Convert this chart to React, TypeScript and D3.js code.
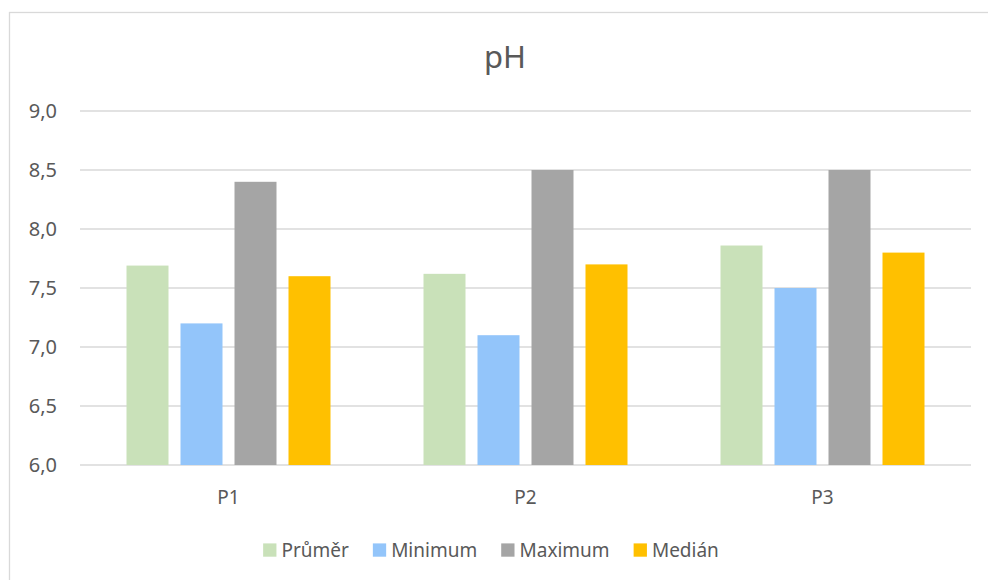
import React from "react";
import * as d3 from "d3";

const categories = ["P1", "P2", "P3"];
const seriesNames = ["Průměr", "Minimum", "Maximum", "Medián"];
const prumer = [7.69, 7.62, 7.86];
const minimum = [7.2, 7.1, 7.5];
const maximum = [8.4, 8.5, 8.5];
const median = [7.6, 7.7, 7.8];
const yTicks = [6.0, 6.5, 7.0, 7.5, 8.0, 8.5, 9.0];
const colors = ["#c9e1b9", "#93c5fa", "#a5a5a5", "#ffc000"];

const W = 988;
const H = 580;
const FONT = "'Noto Sans', 'Open Sans', sans-serif";
const TEXT = "#595959";

function measure(text: string, size: number): number {
  if (typeof document === "undefined") return text.length * size * 0.55;
  const c = document.createElement("canvas");
  const ctx = c.getContext("2d");
  if (!ctx) return text.length * size * 0.55;
  ctx.font = `${size}px 'Noto Sans'`;
  return ctx.measureText(text).width;
}

export default function App() {
  const values = [prumer, minimum, maximum, median];
  const plot = { left: 80, right: 971, top: 111, bottom: 465 };
  const y = d3.scaleLinear().domain([6, 9]).range([plot.bottom, plot.top]);
  const x0 = d3.scaleBand<string>().domain(categories).range([plot.left, plot.right]).padding(0);
  const band = x0.bandwidth();
  const groupW = band * (204 / 297);
  const off = (band - groupW) / 2;
  const x1 = d3
    .scaleBand<string>()
    .domain(seriesNames)
    .range([off, off + groupW])
    .paddingInner(12 / 54)
    .paddingOuter(0);

  const legendSize = 19;
  const sq = 13.3;
  const widths = seriesNames.map((s) => measure(s, legendSize));
  const itemW = widths.map((w) => sq + 5 + w);
  const total = itemW.reduce((a, b) => a + b, 0) + 24 * (seriesNames.length - 1);
  let lx = 491 - total / 2;
  const legendItems = seriesNames.map((s, i) => {
    const item = { name: s, x: lx, color: colors[i] };
    lx += itemW[i] + 24;
    return item;
  });

  return (
    <div style={{ position: "absolute", left: 0, top: 0 }}>
      <svg width={W} height={H} style={{ display: "block", background: "#fff" }}>
        <rect x={9.5} y={12.5} width={1000} height={600} fill="#fff" stroke="#d9d9d9" strokeWidth={1.3} />
        <text x={505} y={68} textAnchor="middle" fontFamily={FONT} fontSize={31} fill={TEXT}>
          pH
        </text>
        {yTicks.map((t) => (
          <g key={t}>
            <line x1={plot.left} x2={plot.right} y1={y(t)} y2={y(t)} stroke="#d9d9d9" strokeWidth={1.4} />
            <text
              x={57}
              y={y(t)}
              dy="0.35em"
              textAnchor="end"
              fontFamily={FONT}
              fontSize={20}
              fill={TEXT}
            >
              {d3.format(".1f")(t).replace(".", ",")}
            </text>
          </g>
        ))}
        {categories.map((c, ci) => (
          <g key={c} transform={`translate(${x0(c)},0)`}>
            {seriesNames.map((s, si) => (
              <rect
                key={s}
                x={x1(s)}
                y={y(values[si][ci])}
                width={x1.bandwidth()}
                height={y(6) - y(values[si][ci])}
                fill={colors[si]}
              />
            ))}
            <text
              x={band / 2}
              y={504}
              textAnchor="middle"
              fontFamily={FONT}
              fontSize={19}
              fill={TEXT}
            >
              {c}
            </text>
          </g>
        ))}
        {legendItems.map((it) => (
          <g key={it.name}>
            <rect x={it.x} y={543.4} width={sq} height={sq} fill={it.color} />
            <text x={it.x + sq + 5} y={556.7} fontFamily={FONT} fontSize={legendSize} fill={TEXT}>
              {it.name}
            </text>
          </g>
        ))}
      </svg>
    </div>
  );
}
